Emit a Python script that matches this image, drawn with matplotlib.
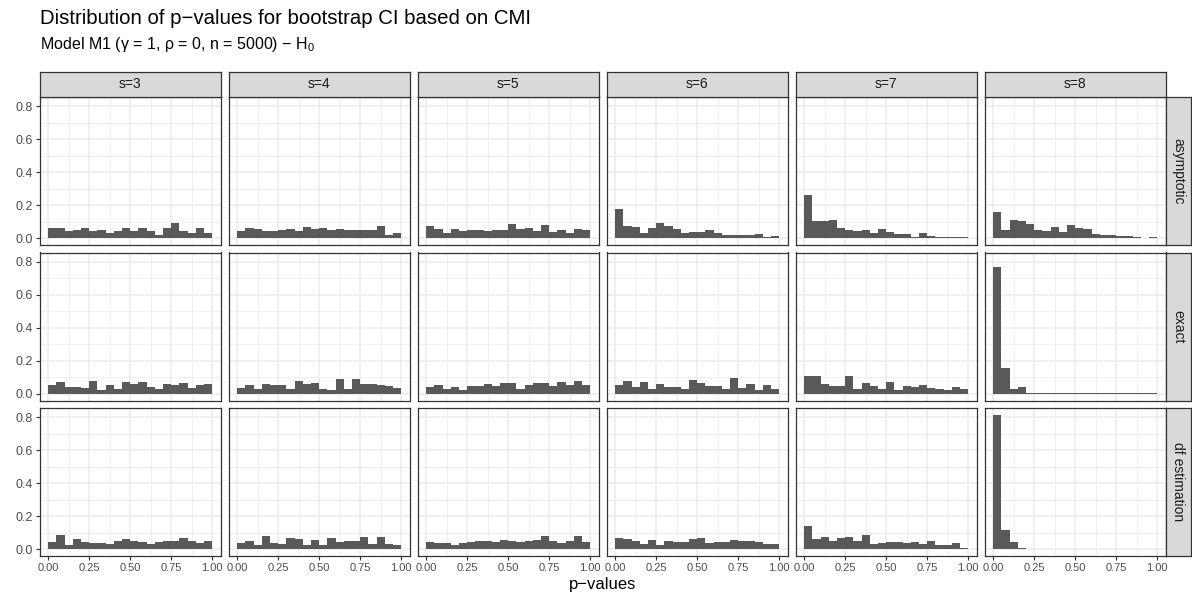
import numpy as np
import matplotlib.pyplot as plt
from matplotlib.ticker import FixedLocator, FormatStrFormatter

plt.rcParams['font.family'] = ['Liberation Sans', 'DejaVu Sans']
plt.rcParams['mathtext.fontset'] = 'custom'
plt.rcParams['mathtext.rm'] = 'Liberation Sans'

sizes = ['s=3', 's=4', 's=5', 's=6', 's=7', 's=8']
methods = ['asymptotic', 'exact', 'df estimation']
bin_edges = np.linspace(0, 1, 21)

# share of p-values per bin (20 bins on [0, 1])
asymptotic = {
    's=3': [0.060, 0.060, 0.045, 0.050, 0.065, 0.045, 0.050, 0.030, 0.045, 0.060,
            0.045, 0.065, 0.045, 0.020, 0.060, 0.090, 0.045, 0.030, 0.060, 0.035],
    's=4': [0.045, 0.060, 0.055, 0.045, 0.045, 0.050, 0.055, 0.045, 0.070, 0.055,
            0.060, 0.050, 0.055, 0.050, 0.050, 0.050, 0.050, 0.075, 0.020, 0.030],
    's=5': [0.075, 0.055, 0.035, 0.055, 0.045, 0.050, 0.050, 0.045, 0.050, 0.050,
            0.085, 0.055, 0.065, 0.045, 0.080, 0.040, 0.050, 0.030, 0.055, 0.050],
    's=6': [0.177, 0.075, 0.070, 0.035, 0.060, 0.095, 0.075, 0.055, 0.035, 0.040,
            0.040, 0.050, 0.030, 0.020, 0.020, 0.020, 0.020, 0.025, 0.005, 0.015],
    's=7': [0.265, 0.105, 0.105, 0.110, 0.060, 0.050, 0.045, 0.050, 0.030, 0.055,
            0.040, 0.023, 0.023, 0.008, 0.030, 0.015, 0.006, 0.006, 0.006, 0.006],
    's=8': [0.160, 0.053, 0.110, 0.105, 0.085, 0.050, 0.045, 0.068, 0.037, 0.080,
            0.062, 0.055, 0.025, 0.018, 0.022, 0.016, 0.016, 0.008, 0.002, 0.008],
}
exact = {
    's=3': [0.053, 0.071, 0.040, 0.040, 0.035, 0.078, 0.022, 0.053, 0.029, 0.071,
            0.060, 0.071, 0.040, 0.029, 0.060, 0.053, 0.065, 0.035, 0.053, 0.060],
    's=4': [0.035, 0.053, 0.029, 0.060, 0.053, 0.053, 0.029, 0.078, 0.060, 0.065,
            0.029, 0.022, 0.090, 0.029, 0.090, 0.060, 0.060, 0.053, 0.047, 0.035],
    's=5': [0.040, 0.053, 0.029, 0.040, 0.022, 0.047, 0.047, 0.060, 0.047, 0.065,
            0.065, 0.029, 0.053, 0.065, 0.065, 0.047, 0.071, 0.053, 0.078, 0.053],
    's=6': [0.053, 0.078, 0.040, 0.071, 0.029, 0.060, 0.040, 0.040, 0.029, 0.084,
            0.065, 0.047, 0.047, 0.029, 0.096, 0.035, 0.060, 0.022, 0.053, 0.029],
    's=7': [0.110, 0.105, 0.062, 0.049, 0.049, 0.110, 0.029, 0.066, 0.049, 0.029,
            0.072, 0.023, 0.049, 0.043, 0.055, 0.037, 0.029, 0.023, 0.043, 0.029],
    's=8': [0.767, 0.154, 0.031, 0.043, 0.004, 0.006, 0.006, 0.004, 0.004, 0.006,
            0.004, 0.006, 0.004, 0.004, 0.004, 0.004, 0.004, 0.004, 0.004, 0.004],
}
df_estimation = {
    's=3': [0.044, 0.088, 0.025, 0.063, 0.044, 0.038, 0.038, 0.031, 0.050, 0.063,
            0.050, 0.044, 0.031, 0.044, 0.050, 0.050, 0.069, 0.050, 0.038, 0.050],
    's=4': [0.038, 0.050, 0.025, 0.081, 0.038, 0.031, 0.069, 0.063, 0.025, 0.056,
            0.025, 0.069, 0.044, 0.050, 0.050, 0.075, 0.031, 0.075, 0.031, 0.025],
    's=5': [0.044, 0.038, 0.038, 0.025, 0.038, 0.044, 0.050, 0.050, 0.044, 0.056,
            0.050, 0.044, 0.050, 0.056, 0.081, 0.050, 0.038, 0.050, 0.081, 0.044],
    's=6': [0.069, 0.063, 0.050, 0.031, 0.056, 0.025, 0.050, 0.044, 0.044, 0.063,
            0.069, 0.038, 0.044, 0.044, 0.056, 0.050, 0.050, 0.044, 0.031, 0.031],
    's=7': [0.140, 0.060, 0.072, 0.053, 0.066, 0.072, 0.053, 0.084, 0.029, 0.041,
            0.047, 0.047, 0.041, 0.047, 0.029, 0.053, 0.023, 0.023, 0.041, 0.010],
    's=8': [0.816, 0.115, 0.047, 0.010, 0.004, 0.004, 0.004, 0.004, 0.004, 0.004,
            0.004, 0.004, 0.004, 0.004, 0.004, 0.004, 0.004, 0.004, 0.004, 0.004],
}
rows = [asymptotic, exact, df_estimation]

W, H = 1192, 594
fig = plt.figure(figsize=(W / 100, H / 100), dpi=100)


def box(x, y, w, h):
    # pixel box measured from the top-left corner
    return [x / W, 1 - (y + h) / H, w / W, h / H]


left0, top0 = 40, 97
pw, ph = 180.5, 148
hgap, vgap = 8.5, 7.5
strip = 25
border = '#333333'
grid_col = '#EBEBEB'

ymax = max(max(v) for d in rows for v in d.values())
ylim = (-0.05 * ymax, 1.05 * ymax)

for r, data in enumerate(rows):
    ytop = top0 + r * (ph + vgap)
    for c, s in enumerate(sizes):
        x = left0 + c * (pw + hgap)
        ax = fig.add_axes(box(x, ytop, pw, ph))
        ax.bar(bin_edges[:-1], data[s], width=np.diff(bin_edges), align='edge',
               color='#595959', linewidth=0)
        ax.set_xlim(-0.05, 1.05)
        ax.set_ylim(*ylim)
        ax.xaxis.set_major_locator(FixedLocator([0, 0.25, 0.5, 0.75, 1.0]))
        ax.xaxis.set_minor_locator(FixedLocator([0.125, 0.375, 0.625, 0.875]))
        ax.yaxis.set_major_locator(FixedLocator([0, 0.2, 0.4, 0.6, 0.8]))
        ax.yaxis.set_minor_locator(FixedLocator([0.1, 0.3, 0.5, 0.7]))
        ax.xaxis.set_major_formatter(FormatStrFormatter('%.2f'))
        ax.yaxis.set_major_formatter(FormatStrFormatter('%.1f'))
        ax.grid(which='major', color=grid_col, lw=1.1)
        ax.grid(which='minor', color=grid_col, lw=0.55)
        ax.set_axisbelow(True)
        for sp in ax.spines.values():
            sp.set_color(border)
            sp.set_linewidth(0.9)
        ax.tick_params(which='minor', length=0)
        ax.tick_params(which='major', direction='out', length=3, width=0.8,
                       color=border, labelcolor='#4D4D4D', pad=2)
        ax.tick_params(axis='y', labelsize=9)
        ax.tick_params(axis='x', labelsize=8)
        if c != 0:
            ax.tick_params(axis='y', left=False, labelleft=False)
        if r != len(rows) - 1:
            ax.tick_params(axis='x', bottom=False, labelbottom=False)

        if r == 0:
            sa = fig.add_axes(box(x, top0 - strip, pw, strip))
            sa.set_facecolor('#D9D9D9')
            sa.set_xticks([])
            sa.set_yticks([])
            for sp in sa.spines.values():
                sp.set_color(border)
                sp.set_linewidth(0.9)
            sa.text(0.5, 0.5, s, ha='center', va='center', size=10,
                    color='#1A1A1A', transform=sa.transAxes)

    xr = left0 + 6 * pw + 5 * hgap
    ra = fig.add_axes(box(xr, ytop, strip, ph))
    ra.set_facecolor('#D9D9D9')
    ra.set_xticks([])
    ra.set_yticks([])
    for sp in ra.spines.values():
        sp.set_color(border)
        sp.set_linewidth(0.9)
    ra.text(0.5, 0.5, methods[r], ha='center', va='center', size=10,
            rotation=-90, color='#1A1A1A', transform=ra.transAxes)

fig.text(left0 / W, 1 - 18 / H, 'Distribution of p\u2212values for bootstrap CI based on CMI',
         size=14.7, va='center', ha='left')
fig.text(left0 / W, 1 - 44 / H,
         'Model M1 (\u03b3 = 1, \u03c1 = 0, n = 5000) \u2212 H$_0$',
         size=11.5, va='center', ha='left')
fig.text((left0 + 3 * pw + 2.5 * hgap) / W, 1 - 584 / H, 'p\u2212values',
         size=12, ha='center', va='center')

fig.savefig('out.png', dpi=100)
